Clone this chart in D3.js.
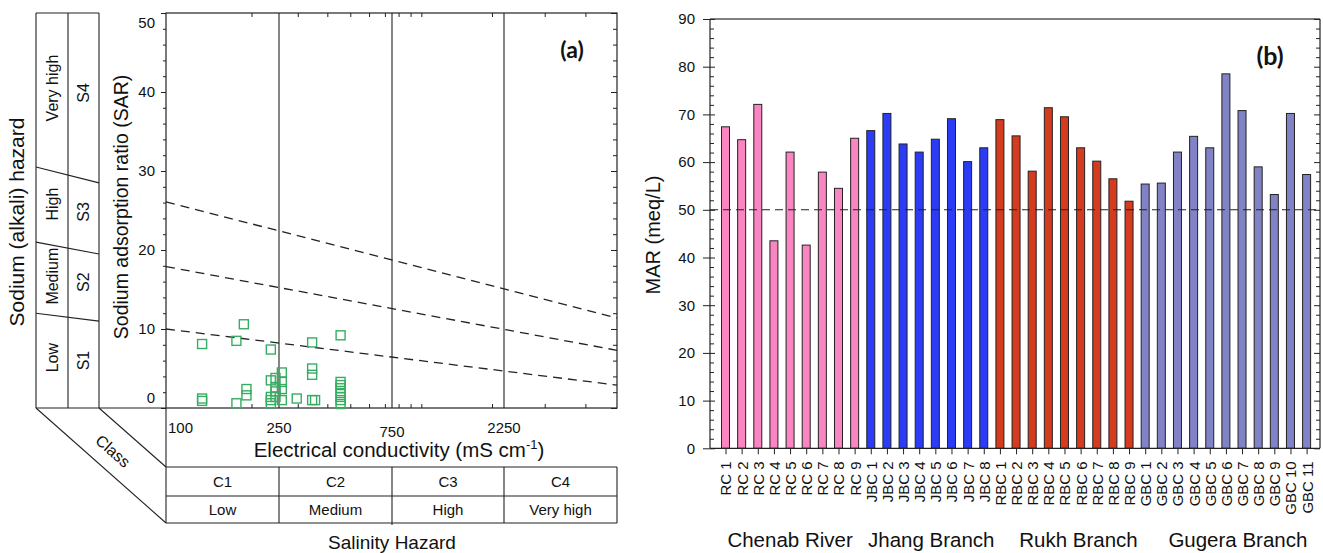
<!DOCTYPE html>
<html>
<head>
<meta charset="utf-8">
<script src="https://cdn.jsdelivr.net/npm/d3@7"></script>
<style>
  body { margin: 0; background: #fff; }
  svg { display: block; font-family: "Liberation Sans", Arial, sans-serif; }
  .axis path { display: none; }
  .axis line { stroke: #222; }
  .axis text { font-size: 15px; fill: #111; font-family: "Liberation Sans", Arial, sans-serif; }
</style>
</head>
<body>
<svg id="chart" width="1323" height="553"></svg>
<script>
// ---------- panel (a) data ----------
const sarTicks = [0, 10, 20, 30, 40, 50];
const ecBreaks = [100, 250, 750, 2250, 5000];
const ecLabels = [100, 250, 750, 2250];
const ecMinor = [200, 300, 400, 500, 600, 700, 800, 900, 1000, 2000, 3000, 4000];
const salinityClasses = ["C1", "C2", "C3", "C4"];
const hazardLevels = ["Low", "Medium", "High", "Very high"];
const sodiumClasses = ["S1", "S2", "S3", "S4"];
// dashed S-class boundaries: SAR at EC = 100 and at EC = 5000
const boundAtLow = [10, 17.9, 26.1];
const boundAtHigh = [2.9, 7.3, 11.4];
// same boundaries in the side table (left edge, right edge)
const tableBoundLeft = [12.0, 21.0, 30.5];
const tableBoundRight = [11.0, 19.5, 28.5];
// samples
const ecValues = [134, 134, 134, 177, 177, 188, 192, 192, 234, 234, 234, 234, 234,
  243, 243, 243, 243, 257, 257, 257, 257, 297, 345, 345, 345, 345, 355,
  455, 455, 455, 455, 455, 455, 455, 455];
const sarValues = [8.1, 1.2, 0.9, 8.5, 0.6, 10.6, 2.4, 1.6, 7.4, 3.5, 1.4, 1.0, 0.6,
  3.8, 2.6, 2.1, 1.4, 4.5, 3.3, 2.4, 1.0, 1.2, 8.3, 5.0, 4.2, 1.0, 1.0,
  9.2, 3.3, 2.9, 2.5, 1.9, 1.4, 1.0, 0.5];

// ---------- panel (b) data ----------
const sites = ["RC 1", "RC 2", "RC 3", "RC 4", "RC 5", "RC 6", "RC 7", "RC 8", "RC 9",
  "JBC 1", "JBC 2", "JBC 3", "JBC 4", "JBC 5", "JBC 6", "JBC 7", "JBC 8",
  "RBC 1", "RBC 2", "RBC 3", "RBC 4", "RBC 5", "RBC 6", "RBC 7", "RBC 8", "RBC 9",
  "GBC 1", "GBC 2", "GBC 3", "GBC 4", "GBC 5", "GBC 6", "GBC 7", "GBC 8", "GBC 9", "GBC 10", "GBC 11"];
const marValues = [67.4, 64.7, 72.1, 43.5, 62.1, 42.6, 57.9, 54.5, 65.0,
  66.6, 70.2, 63.8, 62.1, 64.8, 69.1, 60.1, 63.0,
  68.9, 65.5, 58.1, 71.4, 69.5, 63.0, 60.2, 56.5, 51.8,
  55.4, 55.6, 62.1, 65.4, 63.0, 78.5, 70.8, 59.0, 53.2, 70.2, 57.4];
const groupPrefix = ["RC", "JBC", "RBC", "GBC"];
const groupNames = ["Chenab River", "Jhang Branch", "Rukh Branch", "Gugera Branch"];
const groupColors = ["#fa86c1", "#2c3cf6", "#d43b1f", "#8282c6"];
const marLimit = 50;
const marTicks = [0, 10, 20, 30, 40, 50, 60, 70, 80, 90];

const svg = d3.select("#chart");

// ================= panel (a) =================
const pa = { left: 166, right: 617, top: 13, bottom: 408 };
const tbl = { x0: 36, x1: 68, x2: 99 };
const rowTop = 467, rowMid = 496, rowBot = 523;

const x = d3.scaleLog().domain(ecBreaks).range([166, 279, 392, 504, 617]);
const y = d3.scaleLinear().domain([0, 50]).range([pa.bottom, pa.top]);
const sarMinor = d3.range(0, 51, 2).filter(v => v % 10 !== 0);

const ga = svg.append("g");
const line = (x1, y1, x2, y2, w) => ga.append("line")
  .attr("x1", x1).attr("y1", y1).attr("x2", x2).attr("y2", y2)
  .attr("stroke", "#222").attr("stroke-width", w || 1.1);

// frame
ga.append("rect").attr("x", pa.left).attr("y", pa.top)
  .attr("width", pa.right - pa.left).attr("height", pa.bottom - pa.top)
  .attr("fill", "none").attr("stroke", "#222").attr("stroke-width", 1.2);

// class boundaries (vertical)
ecLabels.slice(1).forEach(v => {
  line(x(v), pa.top, x(v), pa.bottom);
  line(x(v), rowTop, x(v), rowBot + (v === 750 ? 2 : 0));
});

// left axis
ga.append("g").attr("class", "axis")
  .attr("transform", `translate(${pa.left},0)`)
  .call(d3.axisLeft(y).tickValues(sarTicks).tickSize(5).tickPadding(6))
  .selectAll("text")
  .attr("dy", d => d === 0 ? "-0.4em" : d === 50 ? "0.95em" : "0.32em");
ga.append("g").attr("class", "axis")
  .attr("transform", `translate(${pa.left},0)`)
  .call(d3.axisLeft(y).tickValues(sarMinor).tickSize(3).tickFormat(""));
// right axis, ticks inward
ga.append("g").attr("class", "axis")
  .attr("transform", `translate(${pa.right},0)`)
  .call(d3.axisLeft(y).tickValues(sarTicks).tickSize(6).tickFormat(""));
ga.append("g").attr("class", "axis")
  .attr("transform", `translate(${pa.right},0)`)
  .call(d3.axisLeft(y).tickValues(sarMinor).tickSize(4).tickFormat(""));
// top and bottom ticks inward
ga.append("g").attr("class", "axis")
  .attr("transform", `translate(0,${pa.top})`)
  .call(d3.axisBottom(x).tickValues(ecMinor).tickSize(4).tickFormat(""));
ga.append("g").attr("class", "axis")
  .attr("transform", `translate(0,${pa.bottom})`)
  .call(d3.axisTop(x).tickValues(ecMinor).tickSize(4).tickFormat(""));

// EC labels
ga.selectAll(".eclab").data(ecLabels).join("text")
  .attr("class", "eclab")
  .attr("x", d => d === 100 ? x(d) + 2 : x(d))
  .attr("y", d => d === 750 ? 437 : 433)
  .attr("text-anchor", d => d === 100 ? "start" : "middle")
  .attr("font-size", 15).attr("fill", "#111")
  .text(d => d);

const ecTitle = ga.append("text")
  .attr("x", 399).attr("y", 457)
  .attr("text-anchor", "middle").attr("font-size", 20.5).attr("fill", "#111");
ecTitle.append("tspan").text("Electrical conductivity (mS cm");
ecTitle.append("tspan").attr("font-size", 13).attr("dy", -8).text("-1");
ecTitle.append("tspan").attr("dy", 8).text(")");

// dashed S-boundaries
boundAtLow.forEach((v, i) => {
  ga.append("line")
    .attr("x1", x(100)).attr("y1", y(v))
    .attr("x2", x(5000)).attr("y2", y(boundAtHigh[i]))
    .attr("stroke", "#222").attr("stroke-width", 1.3)
    .attr("stroke-dasharray", "9,6");
});

// side table
line(tbl.x0, pa.top, tbl.x0, pa.bottom);
line(tbl.x1, pa.top, tbl.x1, pa.bottom);
line(tbl.x2, pa.top, tbl.x2, pa.bottom);
line(tbl.x0, pa.top, tbl.x2, pa.top);
line(tbl.x0, pa.bottom, pa.left, pa.bottom);
tableBoundLeft.forEach((v, i) => line(tbl.x0, y(v), tbl.x2, y(tableBoundRight[i])));

// band centres inside the table
const bandAt = (frac) => {
  const lo = [0].concat(tableBoundLeft.map((v, i) => v + (tableBoundRight[i] - v) * frac));
  const hi = lo.slice(1).concat([50]);
  return lo.map((v, i) => (y(v) + y(hi[i])) / 2);
};
const fracLevel = ((tbl.x0 + tbl.x1) / 2 - tbl.x0) / (tbl.x2 - tbl.x0);
const fracClass = ((tbl.x1 + tbl.x2) / 2 - tbl.x0) / (tbl.x2 - tbl.x0);
const levelY = bandAt(fracLevel), classY = bandAt(fracClass);
hazardLevels.forEach((t, i) => {
  const cx = (tbl.x0 + tbl.x1) / 2;
  ga.append("text").attr("transform", `translate(${cx},${levelY[i] - 4}) rotate(-90)`)
    .attr("text-anchor", "middle").attr("dy", "0.35em")
    .attr("font-size", 16).attr("fill", "#111").text(t);
  const sx = (tbl.x1 + tbl.x2) / 2;
  ga.append("text").attr("transform", `translate(${sx},${classY[i] - 3}) rotate(-90)`)
    .attr("text-anchor", "middle").attr("dy", "0.35em")
    .attr("font-size", 16).attr("fill", "#111").text(sodiumClasses[i]);
});

// axis titles
ga.append("text").attr("transform", "translate(17,222) rotate(-90)")
  .attr("text-anchor", "middle").attr("dy", "0.35em")
  .attr("font-size", 21).attr("fill", "#111").text("Sodium (alkali) hazard");
ga.append("text").attr("transform", "translate(121,207) rotate(-90)")
  .attr("text-anchor", "middle").attr("dy", "0.35em")
  .attr("font-size", 19.5).attr("fill", "#111").text("Sodium adsorption ratio (SAR)");

// class diagonals and salinity table
line(tbl.x0, pa.bottom, pa.left, rowBot);
line(tbl.x2, pa.bottom, pa.left, rowTop);
line(pa.left, pa.bottom, pa.left, rowBot);
line(pa.left, rowTop, pa.right, rowTop);
line(pa.left, rowMid, pa.right, rowMid);
line(pa.left, rowBot, pa.right, rowBot);
line(pa.right, rowTop, pa.right, rowBot);
ga.append("text")
  .attr("transform", `translate(113,451) rotate(${Math.atan2(rowBot - pa.bottom, pa.left - tbl.x0) * 180 / Math.PI})`)
  .attr("text-anchor", "middle").attr("dy", "0.35em")
  .attr("font-size", 16).attr("fill", "#111").text("Class");

const cls = salinityClasses.map((c, i) => ({ c, lvl: hazardLevels[i], a: ecBreaks[i], b: ecBreaks[i + 1] }));
ga.selectAll(".cls").data(cls).join("text").attr("class", "cls")
  .attr("x", d => (x(d.a) + x(d.b)) / 2).attr("y", (rowTop + rowMid) / 2)
  .attr("dy", "0.35em").attr("text-anchor", "middle")
  .attr("font-size", 15).attr("fill", "#111").text(d => d.c);
ga.selectAll(".lvl").data(cls).join("text").attr("class", "lvl")
  .attr("x", d => (x(d.a) + x(d.b)) / 2).attr("y", (rowMid + rowBot) / 2)
  .attr("dy", "0.35em").attr("text-anchor", "middle")
  .attr("font-size", 15).attr("fill", "#111").text(d => d.lvl);
ga.append("text").attr("x", 392).attr("y", 549).attr("text-anchor", "middle")
  .attr("font-size", 19).attr("fill", "#111").text("Salinity Hazard");

// samples
const sq = 9;
ga.selectAll(".pt").data(ecValues.map((e, i) => [e, sarValues[i]])).join("rect")
  .attr("class", "pt")
  .attr("x", d => x(d[0]) - sq / 2).attr("y", d => y(d[1]) - sq / 2)
  .attr("width", sq).attr("height", sq)
  .attr("fill", "none").attr("stroke", "#36ad62").attr("stroke-width", 1.4);

ga.append("text").attr("x", 572).attr("y", 58).attr("text-anchor", "middle")
  .attr("font-family", "Lato, 'Open Sans', sans-serif").attr("font-weight", "bold")
  .attr("font-size", 23).attr("fill", "#111").text("(a)");

// ================= panel (b) =================
const pb = { left: 710, right: 1320, top: 19, bottom: 448.3 };
const xb = d3.scalePoint().domain(sites).range([725.5, 1306.6]);
const yb = d3.scaleLinear().domain([0, 90]).range([pb.bottom, pb.top]);
const marMinor = d3.range(0, 91, 2).filter(v => v % 10 !== 0);
const barW = 8;
const groupOf = s => groupPrefix.indexOf(s.split(" ")[0]);

const gb = svg.append("g");

gb.selectAll(".bar").data(sites.map((s, i) => ({ s, v: marValues[i] }))).join("rect")
  .attr("class", "bar")
  .attr("x", d => xb(d.s) - barW / 2).attr("y", d => yb(d.v))
  .attr("width", barW).attr("height", d => pb.bottom - yb(d.v))
  .attr("fill", d => groupColors[groupOf(d.s)])
  .attr("stroke", "#222").attr("stroke-width", 1);

// limit line
gb.append("line").attr("x1", pb.left).attr("x2", pb.right)
  .attr("y1", yb(marLimit)).attr("y2", yb(marLimit))
  .attr("stroke", "#222").attr("stroke-width", 1.1).attr("stroke-dasharray", "8,5");

// frame lines
gb.append("line").attr("x1", pb.left).attr("x2", pb.right).attr("y1", pb.top).attr("y2", pb.top)
  .attr("stroke", "#555").attr("stroke-width", 1.5);
gb.append("line").attr("x1", pb.right).attr("x2", pb.right).attr("y1", pb.top).attr("y2", pb.bottom)
  .attr("stroke", "#222").attr("stroke-width", 1.2);

// left axis: major ticks cross the axis, minor inside
gb.append("g").attr("class", "axis").attr("transform", `translate(${pb.left},0)`)
  .call(d3.axisLeft(yb).tickValues(marTicks).tickSize(7).tickPadding(8));
gb.append("g").attr("class", "axis").attr("transform", `translate(${pb.left},0)`)
  .call(d3.axisRight(yb).tickValues(marTicks).tickSize(5).tickFormat(""));
gb.append("g").attr("class", "axis").attr("transform", `translate(${pb.left},0)`)
  .call(d3.axisRight(yb).tickValues(marMinor).tickSize(4).tickFormat(""));
gb.append("line").attr("x1", pb.left).attr("x2", pb.left).attr("y1", pb.top).attr("y2", pb.bottom)
  .attr("stroke", "#222").attr("stroke-width", 1.2);
// right axis ticks inward
gb.append("g").attr("class", "axis").attr("transform", `translate(${pb.right},0)`)
  .call(d3.axisLeft(yb).tickValues(marTicks).tickSize(6).tickFormat(""));
gb.append("g").attr("class", "axis").attr("transform", `translate(${pb.right},0)`)
  .call(d3.axisLeft(yb).tickValues(marMinor).tickSize(4).tickFormat(""));

// bottom axis
const xAxisB = gb.append("g").attr("class", "axis").attr("transform", `translate(0,${pb.bottom})`)
  .call(d3.axisBottom(xb).tickSize(6).tickPadding(6));
xAxisB.select(".domain").remove();
xAxisB.selectAll("text")
  .attr("font-size", 16)
  .attr("transform", "rotate(-90)")
  .attr("text-anchor", "end")
  .attr("x", -13).attr("y", 0).attr("dy", "0.36em");
gb.append("line").attr("x1", pb.left).attr("x2", pb.right).attr("y1", pb.bottom).attr("y2", pb.bottom)
  .attr("stroke", "#222").attr("stroke-width", 1.2);

gb.append("text").attr("transform", "translate(653,235) rotate(-90)")
  .attr("text-anchor", "middle").attr("dy", "0.35em")
  .attr("font-size", 20).attr("fill", "#111").text("MAR (meq/L)");

// group labels
const groupShift = [0, 4, 14, 12];
groupPrefix.forEach((p, i) => {
  const members = sites.filter(s => s.split(" ")[0] === p);
  const cx = (xb(members[0]) + xb(members[members.length - 1])) / 2 + groupShift[i];
  gb.append("text").attr("x", cx).attr("y", 547).attr("text-anchor", "middle")
    .attr("font-size", 20.5).attr("fill", "#111").text(groupNames[i]);
});

gb.append("text").attr("x", 1270).attr("y", 65).attr("text-anchor", "middle")
  .attr("font-family", "Lato, 'Open Sans', sans-serif").attr("font-weight", "bold")
  .attr("font-size", 25).attr("fill", "#111").text("(b)");
</script>
</body>
</html>
